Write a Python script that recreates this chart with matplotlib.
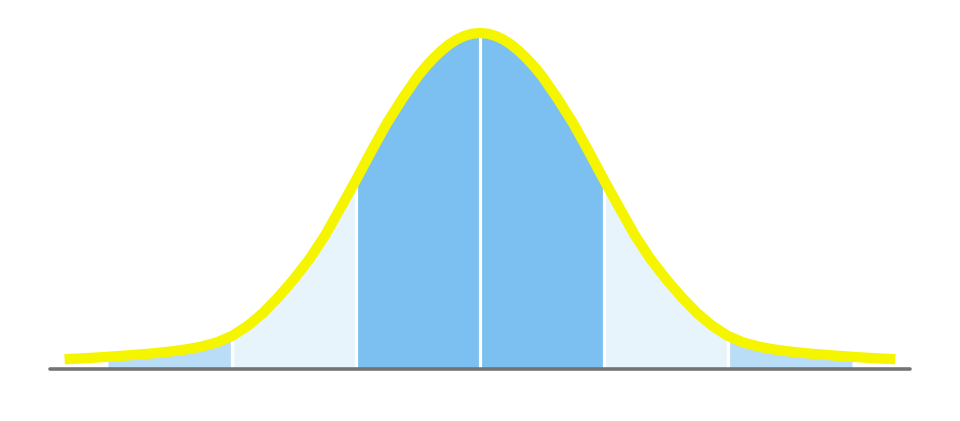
"""
Bell curve with the sigma bands shaded (±1σ dark, ±1–2σ pale, ±2–3σ light).
Values are read off the reference picture: x in sigma units, height in px-like units.
"""

import matplotlib
matplotlib.use("Agg")
import matplotlib.pyplot as plt
import numpy as np

# ----------------------------- data --------------------------------------- #

sigma_x = [
    -3.35, -3.25, -3.125, -3.0, -2.875, -2.75, -2.625, -2.5, -2.375, -2.25,
    -2.125, -2.0, -1.875, -1.75, -1.625, -1.5, -1.375, -1.25, -1.125, -1.0,
    -0.875, -0.75, -0.625, -0.5, -0.4375, -0.375, -0.3125, -0.25, -0.1875, -0.125,
    -0.0625, 0.0,
    0.0625, 0.125, 0.1875, 0.25, 0.3125, 0.375, 0.4375, 0.5, 0.625, 0.75,
    0.875, 1.0, 1.125, 1.25, 1.375, 1.5, 1.625, 1.75, 1.875, 2.0,
    2.125, 2.25, 2.375, 2.5, 2.625, 2.75, 2.875, 3.0, 3.125, 3.25,
    3.35,
]
curve_height = [
    9.8, 10.4, 11.2, 12.2, 13.3, 14.5, 15.8, 17.4, 19.5, 22.3,
    26.5, 33, 43, 56, 72, 90, 110, 133.5, 161, 189,
    218, 246, 270.5, 293, 302.3, 310.8, 318.2, 324.5, 329.5, 333.1,
    335.3, 336,
    335.3, 333.1, 329.5, 324.5, 318.2, 310.8, 302.3, 293, 270.5, 246,
    218, 189, 161, 133.5, 110, 90, 72, 56, 43, 33,
    26.5, 22.3, 19.5, 17.4, 15.8, 14.5, 13.3, 12.2, 11.2, 10.4,
    9.8,
]

band_edges = [(-3, -2), (-2, -1), (-1, 0), (0, 1), (1, 2), (2, 3)]
band_colors = ["#b9ddf6", "#e8f4fc", "#7bc0f0", "#7bc0f0", "#e8f4fc", "#b9ddf6"]
divider_x = [-2, -1, 0, 1, 2]
baseline_span = (-3.47, 3.47)


# ----------------------------- plot --------------------------------------- #

def main() -> None:
    x = np.array(sigma_x)
    h = np.array(curve_height)

    fig = plt.figure(figsize=(9.6, 4.21), dpi=100)
    ax = fig.add_axes([0, 0, 1, 1])
    ax.set_xlim(-480 / 124, 480 / 124)
    ax.set_ylim(-52, 369)
    ax.axis("off")

    # shaded bands under the curve
    for (lo, hi), col in zip(band_edges, band_colors):
        m = (x >= lo) & (x <= hi)
        ax.fill_between(x[m], 0, h[m], color=col, linewidth=0, zorder=1)

    # white separators between bands
    for d in divider_x:
        ax.plot([d, d], [0, np.interp(d, x, h)], color="white", lw=2.3,
                solid_capstyle="butt", zorder=2)

    # baseline
    ax.plot(baseline_span, [0, 0], color="#747474", lw=2.6,
            solid_capstyle="round", zorder=3)

    # the curve
    ax.plot(x, h, color="#f5f500", lw=7.4, solid_capstyle="butt",
            solid_joinstyle="round", zorder=4)

    fig.savefig("out.png", dpi=100)


if __name__ == "__main__":
    main()
